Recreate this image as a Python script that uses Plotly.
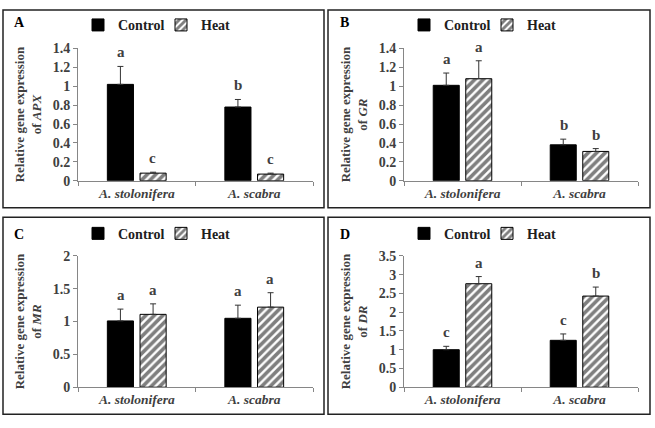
import plotly.graph_objects as go

# ---------------- data ----------------
categories = ["A. stolonifera", "A. scabra"]

apx_control = [1.02, 0.78]
apx_control_err = [0.19, 0.08]
apx_heat = [0.08, 0.07]
apx_heat_err = [0.01, 0.01]
apx_letters_control = ["a", "b"]
apx_letters_heat = ["c", "c"]

gr_control = [1.01, 0.38]
gr_control_err = [0.13, 0.06]
gr_heat = [1.08, 0.31]
gr_heat_err = [0.19, 0.03]
gr_letters_control = ["a", "b"]
gr_letters_heat = ["a", "b"]

mr_control = [1.01, 1.05]
mr_control_err = [0.18, 0.20]
mr_heat = [1.11, 1.22]
mr_heat_err = [0.16, 0.22]
mr_letters_control = ["a", "a"]
mr_letters_heat = ["a", "a"]

dr_control = [1.00, 1.25]
dr_control_err = [0.09, 0.17]
dr_heat = [2.76, 2.43]
dr_heat_err = [0.19, 0.24]
dr_letters_control = ["c", "c"]
dr_letters_heat = ["a", "b"]

panel_labels = ["A", "B", "C", "D"]
genes = ["APX", "GR", "MR", "DR"]
y_ranges = [[0, 1.4], [0, 1.4], [0, 2], [0, 3.5]]
y_dticks = [0.2, 0.2, 0.5, 0.5]

# ---------------- layout geometry (pixels) ----------------
W, H = 655, 428
FONT = "Liberation Serif"
TXT = "#404040"
AX = "#868686"

def px(x):
    return x / W

def py(y):
    return 1 - y / H

panels = [
    dict(x0=78, x1=313, yt=43, yb=180, bx=(3, 324), by=(3, 208), lx=12, ly=16, legc=118, legh=201, legy=19),
    dict(x0=404, x1=638, yt=43, yb=180, bx=(328, 650), by=(3, 208), lx=338, ly=16, legc=444, legh=527, legy=19),
    dict(x0=78, x1=313, yt=258, yb=394, bx=(3, 324), by=(218, 422), lx=12, ly=236, legc=118, legh=201, legy=235),
    dict(x0=404, x1=638, yt=258, yb=394, bx=(328, 650), by=(218, 422), lx=338, ly=236, legc=444, legh=527, legy=235),
]

data = [
    (apx_control, apx_control_err, apx_heat, apx_heat_err, apx_letters_control, apx_letters_heat),
    (gr_control, gr_control_err, gr_heat, gr_heat_err, gr_letters_control, gr_letters_heat),
    (mr_control, mr_control_err, mr_heat, mr_heat_err, mr_letters_control, mr_letters_heat),
    (dr_control, dr_control_err, dr_heat, dr_heat_err, dr_letters_control, dr_letters_heat),
]

fig = go.Figure()
layout = dict(
    width=W, height=H,
    margin=dict(l=0, r=0, t=0, b=0),
    paper_bgcolor="white", plot_bgcolor="white",
    barmode="group", bargap=0.444, bargroupgap=0.2,
    showlegend=True,
    shapes=[], annotations=[],
)

LEG_OFFSET = 40  # distance from legend box left edge to start of item text

for i, (p, d) in enumerate(zip(panels, data)):
    ctl, ctl_e, ht, ht_e, let_c, let_h = d
    n = i + 1
    xa = "x" if n == 1 else f"x{n}"
    ya = "y" if n == 1 else f"y{n}"
    lgc = "legend" if n == 1 else f"legend{2 * n - 1}"
    lgh = f"legend{2 * n}"

    fig.add_trace(go.Bar(
        x=categories, y=ctl, name="Control", xaxis=xa, yaxis=ya, legend=lgc,
        marker=dict(color="black", line=dict(color="black", width=1)),
        error_y=dict(type="data", array=ctl_e, arrayminus=[0] * len(ctl_e), symmetric=False,
                     color="#333333", thickness=1, width=3),
    ))
    fig.add_trace(go.Bar(
        x=categories, y=ht, name="Heat", xaxis=xa, yaxis=ya, legend=lgh,
        marker=dict(color="white", line=dict(color="black", width=1),
                    pattern=dict(shape="/", fgcolor="black", bgcolor="white", size=6, solidity=0.6)),
        error_y=dict(type="data", array=ht_e, arrayminus=[0] * len(ht_e), symmetric=False,
                     color="#333333", thickness=1, width=3),
    ))

    xkey = "xaxis" if n == 1 else f"xaxis{n}"
    ykey = "yaxis" if n == 1 else f"yaxis{n}"
    layout[xkey] = dict(
        domain=[px(p["x0"]), px(p["x1"])], anchor=ya,
        showline=True, linecolor=AX, linewidth=1,
        ticks="outside", ticklen=4, tickcolor=AX, tickson="boundaries",
        tickfont=dict(family=FONT, size=13.5, color=TXT, style="italic", weight="bold"),
        showgrid=False, zeroline=False, fixedrange=True,
    )
    layout[ykey] = dict(
        domain=[py(p["yb"]), py(p["yt"])], anchor=xa,
        range=y_ranges[i], dtick=y_dticks[i], tick0=0,
        showline=True, linecolor=AX, linewidth=1,
        ticks="outside", ticklen=4, tickcolor=AX,
        tickfont=dict(family=FONT, size=14, color=TXT, weight="bold"),
        showgrid=False, zeroline=False,
        title=dict(text=f"<b>Relative gene expression<br>of <i>{genes[i]}</i></b>",
                   font=dict(family=FONT, size=13, color=TXT), standoff=8),
    )
    for lg, lx in ((lgc, p["legc"]), (lgh, p["legh"])):
        layout[lg] = dict(
            orientation="h", x=px(lx - LEG_OFFSET), y=py(p["legy"]), xanchor="left", yanchor="middle",
            font=dict(family=FONT, size=14, color="#202020", weight="bold"),
            bgcolor="rgba(0,0,0,0)", itemwidth=30, tracegroupgap=0,
        )

    # panel border
    layout["shapes"].append(dict(
        type="rect", xref="paper", yref="paper",
        x0=px(p["bx"][0]), x1=px(p["bx"][1]), y0=py(p["by"][1]), y1=py(p["by"][0]),
        line=dict(color="#222222", width=1.5), fillcolor="rgba(0,0,0,0)",
    ))
    # panel letter
    layout["annotations"].append(dict(
        text=f"<b>{panel_labels[i]}</b>", xref="paper", yref="paper",
        x=px(p["lx"]), y=py(p["ly"]), xanchor="left", yanchor="middle", showarrow=False,
        font=dict(family=FONT, size=14, color="black"),
    ))
    # significance letters
    for j, cat in enumerate(categories):
        for vals, errs, lets, shift in ((ctl, ctl_e, let_c, -16), (ht, ht_e, let_h, 16)):
            layout["annotations"].append(dict(
                text=f"<b>{lets[j]}</b>", xref=xa, yref=ya,
                x=cat, y=vals[j] + errs[j], xshift=shift, yshift=4,
                xanchor="center", yanchor="bottom", showarrow=False,
                font=dict(family=FONT, size=15, color=TXT),
            ))

fig.update_layout(**layout)
fig.write_html("out.html", config={"displayModeBar": False},
               post_script="document.body.style.margin='0';")
